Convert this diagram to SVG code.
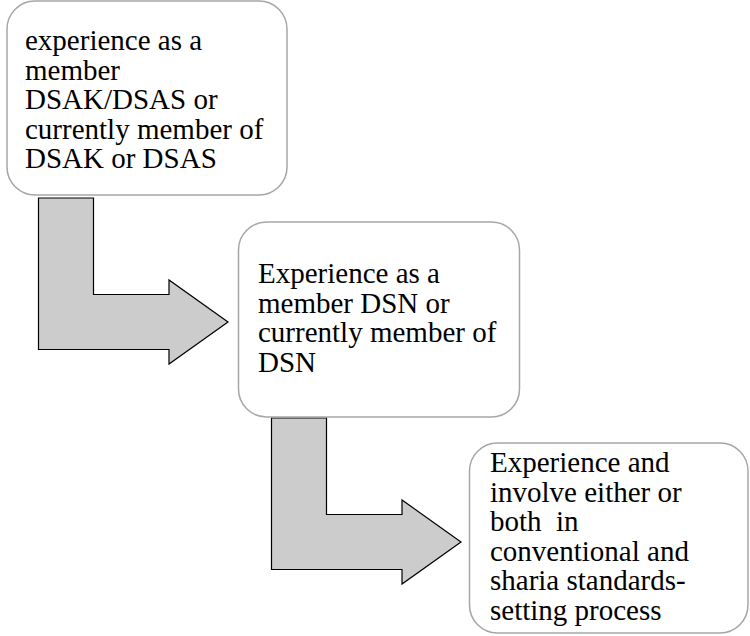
<svg xmlns="http://www.w3.org/2000/svg" width="750" height="636" viewBox="0 0 750 636">
<style>
.box{fill:#ffffff;stroke:#a6a6a6;stroke-width:1.5}
.arrow{fill:#cccccc;stroke:#000000;stroke-width:1.2;stroke-linejoin:miter}
</style>
<rect width="750" height="636" fill="#ffffff"/>
<g id="connectors">
<path class="arrow" d="M38.5,198 H93.5 V294.5 H169 V280 L228,322 L169,364 V349.5 H38.5 Z"/>
<path class="arrow" d="M271.5,418 H326.5 V514.5 H402 V500 L461,542 L402,584 V569.5 H271.5 Z"/>
</g>
<g id="node1">
<rect class="box" x="7" y="1" width="280" height="194" rx="28" ry="28"/>
<text x="25" y="50" font-family="Liberation Serif" font-size="29">experience as a</text>
<text x="25" y="79.5" font-family="Liberation Serif" font-size="29">member</text>
<text x="25" y="109" font-family="Liberation Serif" font-size="29">DSAK/DSAS or</text>
<text x="25" y="138.5" font-family="Liberation Serif" font-size="29">currently member of</text>
<text x="25" y="168" font-family="Liberation Serif" font-size="29">DSAK or DSAS</text>
</g>
<g id="node2">
<rect class="box" x="238.5" y="222" width="281" height="195" rx="28" ry="28"/>
<text x="258" y="283" font-family="Liberation Serif" font-size="29">Experience as a</text>
<text x="258" y="312.5" font-family="Liberation Serif" font-size="29">member DSN or</text>
<text x="258" y="342" font-family="Liberation Serif" font-size="29">currently member of</text>
<text x="258" y="371.5" font-family="Liberation Serif" font-size="29">DSN</text>
</g>
<g id="node3">
<rect class="box" x="469.5" y="443" width="278.5" height="190" rx="28" ry="28"/>
<text x="490" y="472" font-family="Liberation Serif" font-size="29">Experience and</text>
<text x="490" y="501.5" font-family="Liberation Serif" font-size="29">involve either or</text>
<text x="490" y="531" font-family="Liberation Serif" font-size="29" xml:space="preserve">both  in</text>
<text x="490" y="560.5" font-family="Liberation Serif" font-size="29">conventional and</text>
<text x="490" y="590" font-family="Liberation Serif" font-size="29">sharia standards-</text>
<text x="490" y="619.5" font-family="Liberation Serif" font-size="29">setting process</text>
</g>
</svg>
